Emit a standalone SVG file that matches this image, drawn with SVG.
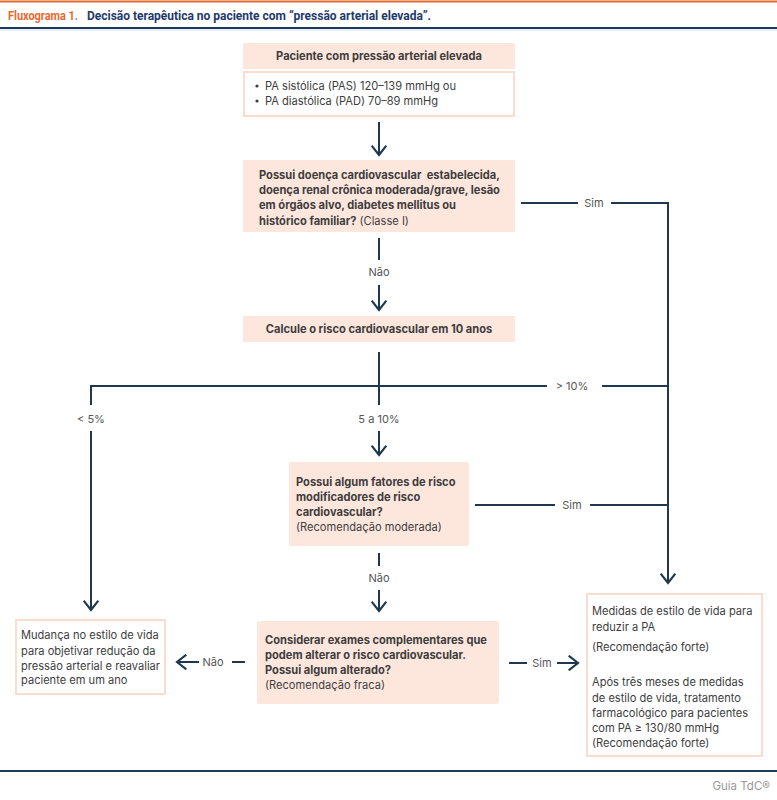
<svg xmlns="http://www.w3.org/2000/svg" width="777" height="800" viewBox="0 0 777 800">
<defs>
<marker id="ah" markerUnits="userSpaceOnUse" markerWidth="16" markerHeight="16" refX="8" refY="6" orient="auto" viewBox="0 0 10 12">
<path d="M1,0.5 L8,6 L1,11.5" fill="none" stroke="#1f3850" stroke-width="1.6"/>
</marker>
<style>
.ln{stroke:#1f3850;stroke-width:2;fill:none}
.ar{stroke:#1f3850;stroke-width:2;fill:none;marker-end:url(#ah)}
.pk{fill:#fde7dd}
.wb{fill:#fff;stroke:#fbddd0;stroke-width:2}
.t{font-family:Inter,"Noto Sans","Liberation Sans",sans-serif;font-size:11.1px;fill:#3d3d3d}
.b{font-weight:bold}
.lb{font-family:Inter,"Noto Sans","Liberation Sans",sans-serif;font-size:11px;fill:#555;text-anchor:middle}
.c{text-anchor:middle}
</style>
</defs>
<rect x="0" y="0" width="777" height="800" fill="#fff"/>
<line x1="0" y1="1.5" x2="777" y2="1.5" stroke="#e8692f" stroke-width="2"/>
<text x="8" y="19.5" font-family="Roboto,'Liberation Sans',sans-serif" font-size="13.5" font-weight="bold" fill="#e8692f" textLength="70" lengthAdjust="spacingAndGlyphs">Fluxograma 1.</text>
<text x="87" y="19.5" font-family="Roboto,'Liberation Sans',sans-serif" font-size="13.5" font-weight="bold" fill="#1e3a6b" textLength="344" lengthAdjust="spacingAndGlyphs">Decisão terapêutica no paciente com “pressão arterial elevada”.</text>
<line x1="0" y1="28" x2="777" y2="28" stroke="#1e3a5c" stroke-width="2"/>
<line x1="0" y1="30" x2="777" y2="30" stroke="#cfe0f0" stroke-width="1"/>

<g id="connectors">
<line class="ar" x1="379" y1="122" x2="379" y2="155"/>
<polyline class="ln" points="521,203 578,203"/>
<polyline class="ar" points="611,203 668,203 668,583"/>
<line class="ln" x1="379" y1="238" x2="379" y2="260"/>
<line class="ar" x1="379" y1="285" x2="379" y2="310"/>
<line class="ln" x1="379" y1="352" x2="379" y2="405"/>
<polyline class="ln" points="91,405 91,386 547,386"/>
<line class="ln" x1="602" y1="386" x2="668" y2="386"/>
<line class="ar" x1="91" y1="431" x2="91" y2="610"/>
<line class="ar" x1="379" y1="431" x2="379" y2="455"/>
<line class="ln" x1="475" y1="505" x2="555" y2="505"/>
<line class="ln" x1="590" y1="505" x2="668" y2="505"/>
<line class="ln" x1="379" y1="553" x2="379" y2="566"/>
<line class="ar" x1="379" y1="590" x2="379" y2="611"/>
<line class="ln" x1="232" y1="662" x2="245" y2="662"/>
<line class="ar" x1="199" y1="662" x2="177" y2="662"/>
<line class="ln" x1="509" y1="663" x2="527" y2="663"/>
<line class="ar" x1="557" y1="663" x2="578" y2="663"/>
<text class="lb" x="594" y="207">Sim</text>
<text class="lb" x="379" y="276">Não</text>
<text class="lb" x="572" y="390">&gt; 10%</text>
<text class="lb" x="91" y="423">&lt; 5%</text>
<text class="lb" x="379" y="423">5 a 10%</text>
<text class="lb" x="572" y="509">Sim</text>
<text class="lb" x="379" y="582">Não</text>
<text class="lb" x="213" y="666">Não</text>
<text class="lb" x="542" y="667">Sim</text>
</g>

<g id="n1">
<rect class="pk" x="243" y="43" width="272" height="26"/>
<text class="t b c" x="379" y="60">Paciente com pressão arterial elevada</text>
</g>
<g id="n2">
<rect class="wb" x="244" y="72" width="270" height="44"/>
<circle cx="257" cy="86" r="1.6" fill="#3d3d3d"/>
<circle cx="257" cy="101" r="1.6" fill="#3d3d3d"/>
<text class="t" x="265" y="90">PA sistólica (PAS) 120–139 mmHg ou</text>
<text class="t" x="265" y="105">PA diastólica (PAD) 70–89 mmHg</text>
</g>
<g id="n3">
<rect class="pk" x="243" y="160" width="272" height="72"/>
<text class="t b" x="259" y="179" xml:space="preserve">Possui doença cardiovascular  estabelecida,</text>
<text class="t b" x="259" y="194">doença renal crônica moderada/grave, lesão</text>
<text class="t b" x="259" y="209">em órgãos alvo, diabetes mellitus ou</text>
<text class="t" x="259" y="225"><tspan class="b">histórico familiar?</tspan> (Classe I)</text>
</g>
<g id="n4">
<rect class="pk" x="243" y="316" width="272" height="26"/>
<text class="t b c" x="379" y="333">Calcule o risco cardiovascular em 10 anos</text>
</g>
<g id="n5">
<rect class="pk" x="289" y="462" width="180" height="84" rx="2"/>
<text class="t b" x="296" y="486">Possui algum fatores de risco</text>
<text class="t b" x="296" y="501">modificadores de risco</text>
<text class="t b" x="296" y="516">cardiovascular?</text>
<text class="t" x="296" y="531">(Recomendação moderada)</text>
</g>
<g id="n6">
<rect class="pk" x="257" y="621" width="242" height="83" rx="2"/>
<text class="t b" x="265" y="644">Considerar exames complementares que</text>
<text class="t b" x="265" y="659">podem alterar o risco cardiovascular.</text>
<text class="t b" x="265" y="674">Possui algum alterado?</text>
<text class="t" x="265" y="689">(Recomendação fraca)</text>
</g>
<g id="n7">
<rect class="wb" x="16" y="620" width="149" height="74"/>
<text class="t" x="21" y="639">Mudança no estilo de vida</text>
<text class="t" x="21" y="655">para objetivar redução da</text>
<text class="t" x="21" y="670">pressão arterial e reavaliar</text>
<text class="t" x="21" y="684">paciente em um ano</text>
</g>
<g id="n8">
<rect class="wb" x="587" y="594" width="175" height="162"/>
<text class="t" x="592" y="615">Medidas de estilo de vida para</text>
<text class="t" x="592" y="631">reduzir a PA</text>
<text class="t" x="592" y="651">(Recomendação forte)</text>
<text class="t" x="592" y="686">Após três meses de medidas</text>
<text class="t" x="592" y="702">de estilo de vida, tratamento</text>
<text class="t" x="592" y="717">farmacológico para pacientes</text>
<text class="t" x="592" y="732">com PA ≥ 130/80 mmHg</text>
<text class="t" x="592" y="747">(Recomendação forte)</text>
</g>
<line x1="0" y1="771" x2="777" y2="771" stroke="#1e3a5c" stroke-width="2"/>
<text x="770" y="790" text-anchor="end" font-family="Inter,'Liberation Sans',sans-serif" font-size="11.5" fill="#999">Guia TdC®</text>
</svg>
